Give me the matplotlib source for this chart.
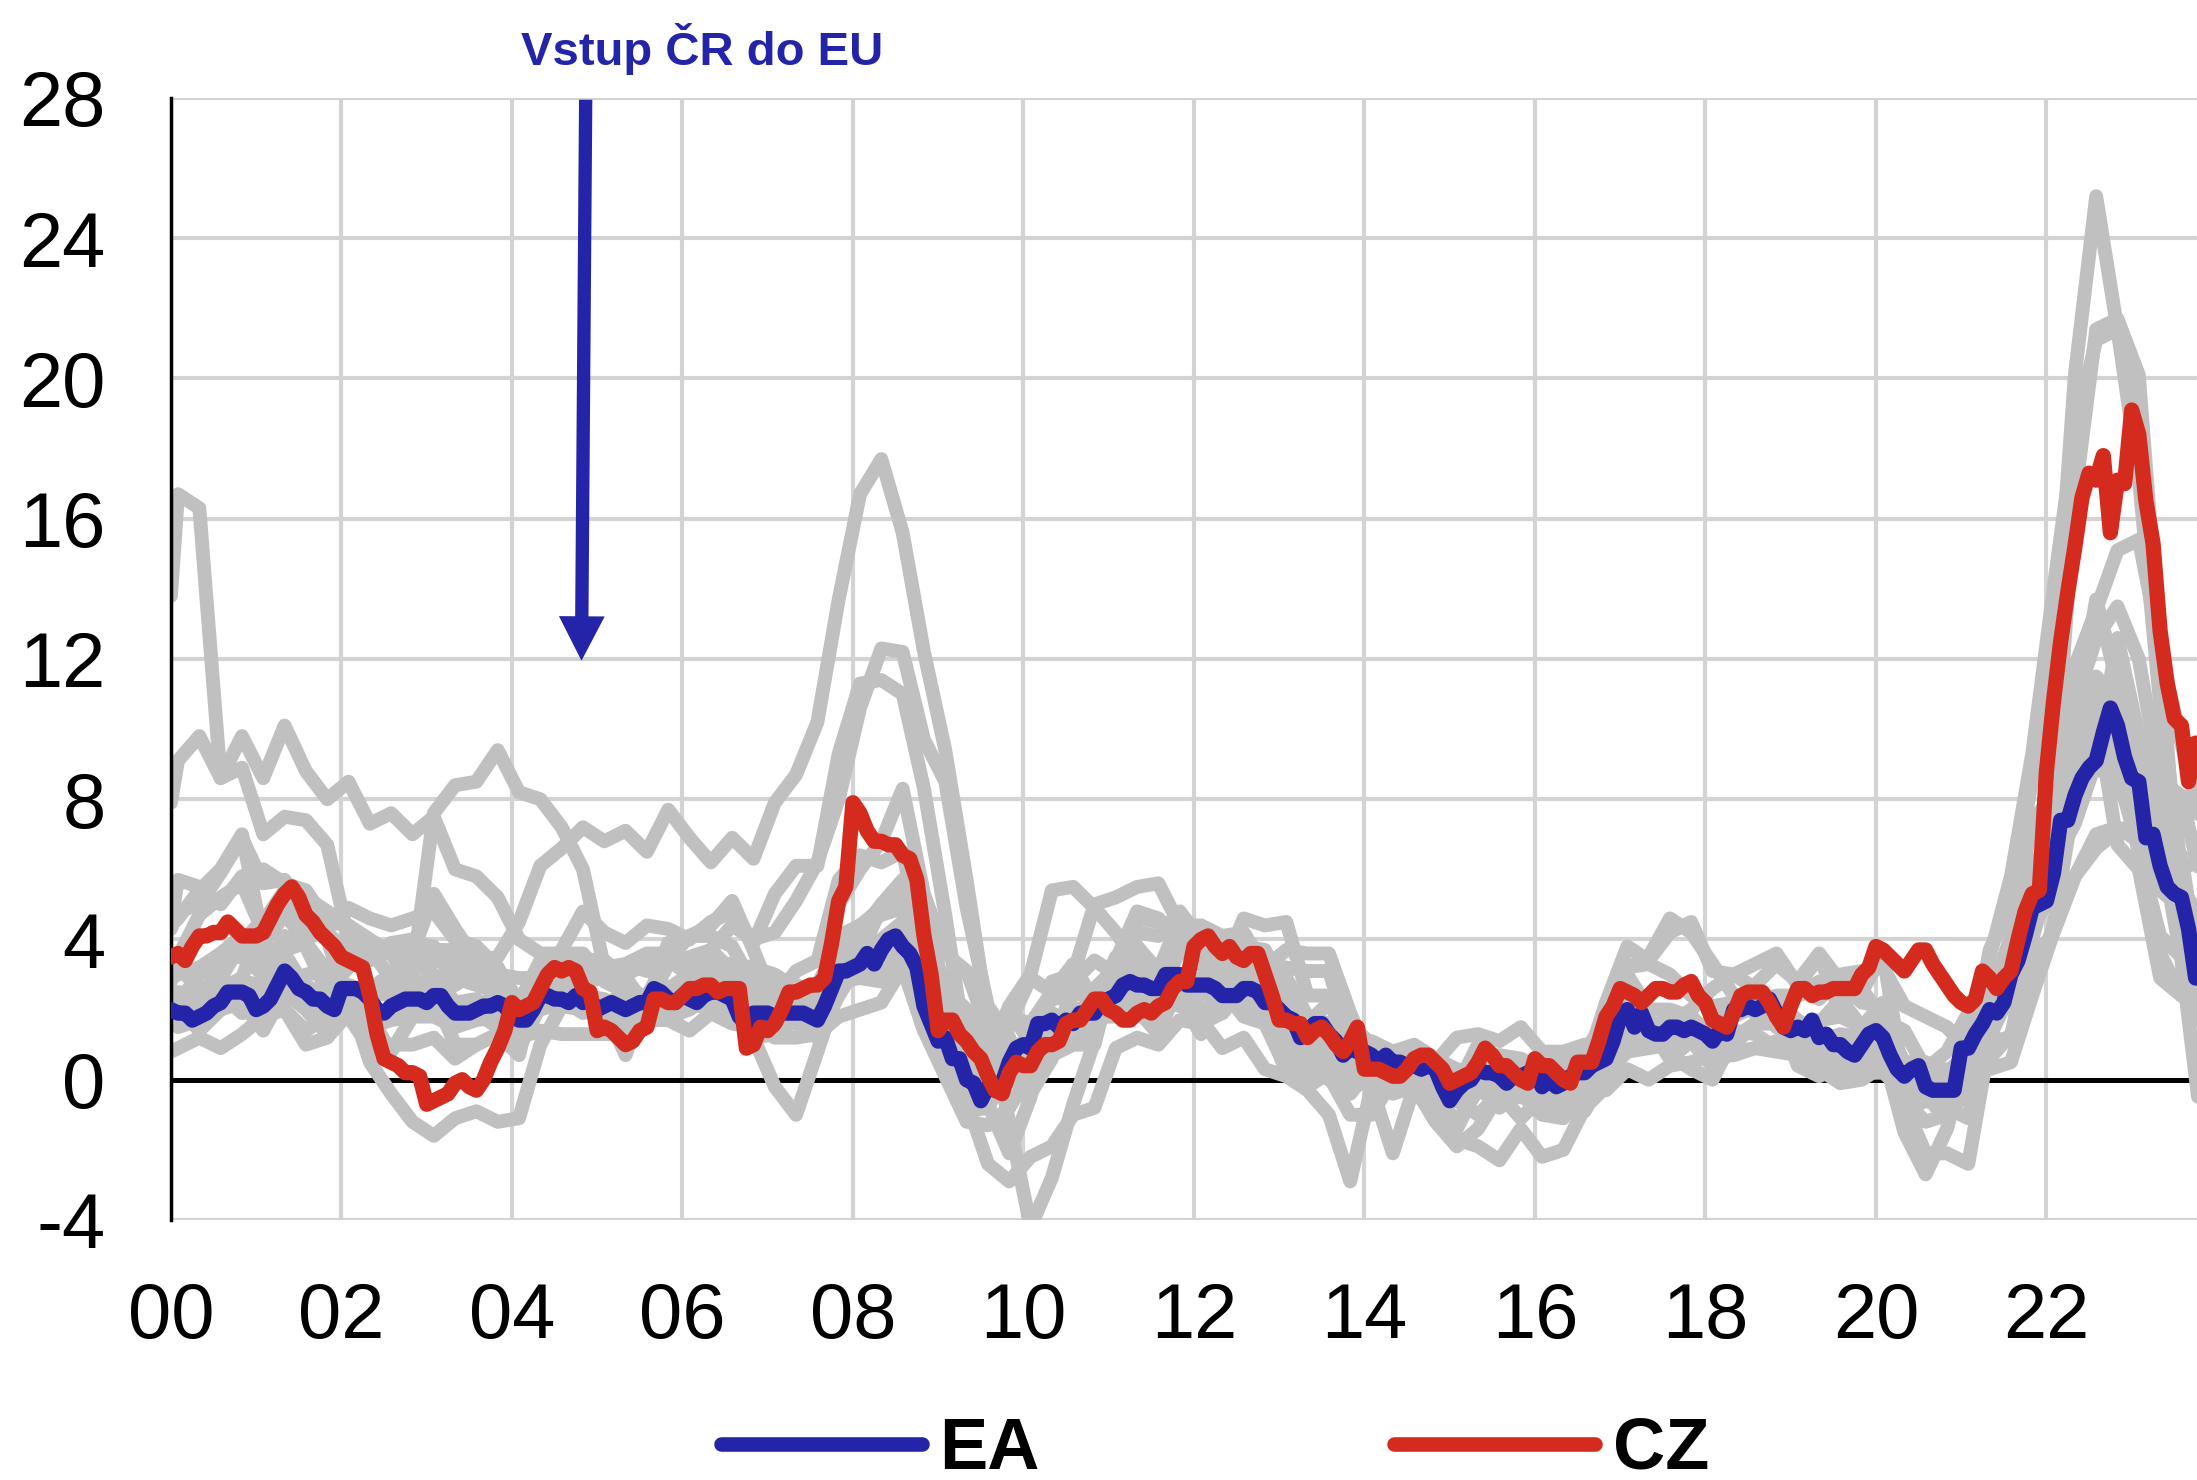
import numpy as np
import matplotlib
matplotlib.use('Agg')
import matplotlib.pyplot as plt
from matplotlib.lines import Line2D

# --- data -------------------------------------------------------------
# monthly y/y inflation, Jan 2000 .. Oct 2023
ea_by_year = [
    [2.0, 1.9, 1.9, 1.7, 1.8, 1.9, 2.1, 2.2, 2.5, 2.5, 2.5, 2.4],
    [2.0, 2.1, 2.3, 2.7, 3.1, 2.9, 2.6, 2.5, 2.3, 2.3, 2.1, 2.0],
    [2.6, 2.6, 2.6, 2.5, 2.3, 2.0, 1.9, 2.1, 2.2, 2.3, 2.3, 2.3],
    [2.2, 2.4, 2.4, 2.1, 1.9, 1.9, 1.9, 2.0, 2.1, 2.1, 2.2, 2.1],
    [1.8, 1.7, 1.7, 2.0, 2.4, 2.4, 2.3, 2.3, 2.2, 2.4, 2.2, 2.3],
    [2.0, 2.1, 2.2, 2.1, 2.0, 2.1, 2.2, 2.2, 2.6, 2.5, 2.3, 2.2],
    [2.4, 2.3, 2.2, 2.4, 2.5, 2.5, 2.4, 2.3, 1.8, 1.6, 1.9, 1.9],
    [1.9, 1.8, 1.9, 1.9, 1.9, 1.9, 1.8, 1.7, 2.1, 2.6, 3.1, 3.1],
    [3.2, 3.3, 3.6, 3.3, 3.7, 4.0, 4.1, 3.8, 3.6, 3.2, 2.1, 1.6],
    [1.1, 1.2, 0.6, 0.6, 0.0, -0.1, -0.6, -0.2, -0.3, -0.1, 0.5, 0.9],
    [1.0, 0.9, 1.6, 1.6, 1.7, 1.5, 1.7, 1.6, 1.9, 1.9, 1.9, 2.2],
    [2.3, 2.4, 2.7, 2.8, 2.7, 2.7, 2.6, 2.6, 3.0, 3.0, 3.0, 2.7],
    [2.7, 2.7, 2.7, 2.6, 2.4, 2.4, 2.4, 2.6, 2.6, 2.5, 2.2, 2.2],
    [2.0, 1.8, 1.7, 1.2, 1.4, 1.6, 1.6, 1.3, 1.1, 0.7, 0.9, 0.8],
    [0.8, 0.7, 0.5, 0.7, 0.5, 0.5, 0.4, 0.4, 0.3, 0.4, 0.3, -0.2],
    [-0.6, -0.3, -0.1, 0.0, 0.3, 0.2, 0.2, 0.1, -0.1, 0.1, 0.1, 0.2],
    [0.3, -0.2, 0.0, -0.2, -0.1, 0.1, 0.2, 0.2, 0.4, 0.5, 0.6, 1.1],
    [1.8, 2.0, 1.5, 1.9, 1.4, 1.3, 1.3, 1.5, 1.5, 1.4, 1.5, 1.4],
    [1.3, 1.1, 1.4, 1.3, 2.0, 2.0, 2.1, 2.0, 2.1, 2.3, 1.9, 1.5],
    [1.4, 1.5, 1.4, 1.7, 1.2, 1.3, 1.0, 1.0, 0.8, 0.7, 1.0, 1.3],
    [1.4, 1.2, 0.7, 0.3, 0.1, 0.3, 0.4, -0.2, -0.3, -0.3, -0.3, -0.3],
    [0.9, 0.9, 1.3, 1.6, 2.0, 1.9, 2.2, 3.0, 3.4, 4.1, 4.9, 5.0],
    [5.1, 5.9, 7.4, 7.4, 8.1, 8.6, 8.9, 9.1, 9.9, 10.6, 10.1, 9.2],
    [8.6, 8.5, 6.9, 7.0, 6.1, 5.5, 5.3, 5.2, 4.3, 2.9],
]

cz_by_year = [
    [3.5, 3.6, 3.4, 3.8, 4.1, 4.1, 4.2, 4.2, 4.5, 4.3, 4.1, 4.1],
    [4.1, 4.2, 4.6, 5.0, 5.3, 5.5, 5.2, 4.7, 4.5, 4.2, 4.0, 3.8],
    [3.5, 3.4, 3.3, 3.2, 2.4, 1.3, 0.6, 0.5, 0.4, 0.2, 0.2, 0.1],
    [-0.7, -0.6, -0.5, -0.4, -0.1, 0.0, -0.2, -0.3, 0.0, 0.5, 0.9, 1.4],
    [2.2, 2.0, 2.1, 2.2, 2.6, 3.0, 3.2, 3.1, 3.2, 3.1, 2.6, 2.5],
    [1.4, 1.5, 1.4, 1.2, 1.0, 1.1, 1.4, 1.5, 2.3, 2.3, 2.2, 2.2],
    [2.4, 2.6, 2.6, 2.7, 2.7, 2.5, 2.6, 2.6, 2.6, 0.9, 1.0, 1.5],
    [1.4, 1.6, 2.0, 2.5, 2.5, 2.6, 2.7, 2.7, 2.9, 3.9, 5.1, 5.5],
    [7.9, 7.6, 7.1, 6.8, 6.8, 6.7, 6.7, 6.4, 6.3, 5.7, 4.1, 3.0],
    [1.4, 1.7, 1.7, 1.3, 1.1, 0.8, 0.6, 0.1, -0.3, -0.4, 0.2, 0.5],
    [0.4, 0.4, 0.8, 1.0, 1.0, 1.1, 1.6, 1.7, 1.7, 2.0, 2.3, 2.3],
    [2.0, 1.9, 1.7, 1.7, 1.9, 2.0, 1.9, 2.1, 2.2, 2.6, 2.8, 2.8],
    [3.8, 4.0, 4.1, 3.8, 3.6, 3.8, 3.5, 3.4, 3.6, 3.6, 3.0, 2.4],
    [1.7, 1.7, 1.6, 1.6, 1.2, 1.4, 1.5, 1.3, 1.0, 0.8, 1.1, 1.5],
    [0.3, 0.3, 0.3, 0.2, 0.1, 0.1, 0.3, 0.6, 0.7, 0.7, 0.5, 0.3],
    [-0.1, 0.0, 0.1, 0.2, 0.5, 0.9, 0.7, 0.4, 0.4, 0.2, 0.0, -0.1],
    [0.6, 0.4, 0.4, 0.2, 0.0, -0.1, 0.5, 0.5, 0.5, 1.1, 1.8, 2.1],
    [2.6, 2.5, 2.4, 2.2, 2.4, 2.6, 2.6, 2.5, 2.5, 2.7, 2.8, 2.4],
    [2.2, 1.7, 1.6, 1.5, 1.9, 2.4, 2.5, 2.5, 2.5, 2.2, 1.8, 1.5],
    [2.1, 2.6, 2.6, 2.4, 2.5, 2.5, 2.6, 2.6, 2.6, 2.6, 3.0, 3.2],
    [3.8, 3.7, 3.5, 3.3, 3.1, 3.4, 3.7, 3.7, 3.3, 3.0, 2.7, 2.4],
    [2.2, 2.1, 2.3, 3.1, 2.9, 2.6, 2.9, 3.1, 4.0, 4.8, 5.3, 5.4],
    [8.8, 10.8, 12.5, 13.9, 15.2, 16.6, 17.3, 17.1, 17.8, 15.6, 17.1, 17.0],
    [19.1, 18.4, 16.5, 15.3, 12.8, 11.3, 10.3, 10.1, 8.5, 9.6],
]

# other euro area countries: Jan 2000, then Feb / May / Aug / Nov of each year
gray_sk = [13.8,
    16.7, 16.3, 8.6, 8.9, 7.0, 7.5, 7.4, 6.7, 4.0, 3.7, 2.9, 3.0, 7.6, 8.4, 8.5, 9.4,
    8.2, 8.0, 7.2, 6.0, 3.2, 2.6, 2.2, 3.9, 4.1, 4.4, 5.1, 3.7, 2.2, 1.6, 1.2, 2.4,
    3.4, 4.0, 4.5, 3.9, 2.4, 1.1, 0.6, 0.0, -0.2, 0.7, 1.0, 1.0, 3.4, 4.2, 4.1, 4.8,
    4.0, 3.4, 3.8, 3.7, 2.5, 1.7, 1.5, 0.4, -0.1, -0.1, -0.1, -0.1, -0.6, -0.1, 0.0, -0.5,
    -0.6, -0.5, -0.9, 0.2, 0.8, 0.9, 1.6, 2.0, 2.6, 3.0, 2.6, 2.2, 2.4, 2.6, 3.0, 3.1,
    3.2, 2.1, 1.8, 1.5, 0.8, 1.7, 3.3, 4.8, 8.3, 11.8, 13.4, 15.1, 15.4, 12.3, 9.6, 7.0]
gray_si = [7.9,
    9.1, 9.8, 8.6, 9.8, 8.6, 10.1, 8.8, 8.0, 8.5, 7.3, 7.6, 7.0, 7.5, 6.0, 5.8, 5.2,
    4.0, 3.6, 3.6, 3.6, 2.8, 2.5, 2.3, 2.5, 2.3, 3.4, 2.2, 2.2, 2.3, 3.1, 3.4, 5.7,
    6.4, 6.2, 6.5, 3.7, 1.6, 0.4, -0.1, 1.8, 1.6, 2.5, 3.1, 1.8, 1.9, 2.0, 1.3, 2.8,
    2.7, 2.9, 3.3, 2.7, 2.6, 1.6, 2.2, 1.1, 0.6, 0.8, 0.1, 0.0, -0.6, -1.0, -0.4, -1.1,
    -0.5, -0.5, 0.2, 0.6, 1.9, 1.2, 1.5, 1.4, 1.4, 2.2, 2.1, 2.0, 1.2, 1.6, 2.3, 1.5,
    2.2, -1.0, -0.3, -0.8, -1.1, 2.2, 2.1, 4.6, 7.0, 8.7, 11.5, 10.8, 9.4, 8.1, 6.0, 6.3]
gray_ee = [4.5,
    5.7, 5.5, 5.0, 5.8, 6.0, 5.6, 5.4, 4.5, 4.4, 4.0, 3.6, 2.6, 2.4, 1.0, 1.0, 1.3,
    0.7, 3.1, 3.7, 4.8, 4.2, 3.9, 4.4, 4.3, 4.0, 4.5, 4.8, 3.9, 5.3, 6.1, 6.1, 9.3,
    11.3, 11.4, 11.0, 8.3, 4.7, 0.7, -0.7, -2.1, -0.5, 2.8, 3.0, 5.0, 5.2, 5.5, 5.6, 4.4,
    4.4, 4.1, 4.2, 3.2, 3.7, 3.6, 3.6, 1.9, 0.5, 0.0, 0.4, -0.1, -0.6, 0.2, 0.1, 0.4,
    0.1, 0.3, 0.3, 2.2, 3.8, 3.4, 4.2, 4.5, 3.1, 3.0, 3.3, 3.6, 2.7, 3.5, 2.1, 1.4,
    1.7, -1.3, -0.4, -1.2, 0.3, 3.7, 5.0, 8.6, 11.6, 20.1, 25.2, 21.4, 17.9, 11.2, 5.5, 4.5]
gray_lv = [3.3,
    3.3, 2.5, 2.5, 1.9, 2.0, 2.5, 3.0, 3.1, 2.4, 1.5, 1.7, 1.8, 2.8, 3.0, 3.4, 3.5,
    4.5, 6.1, 6.6, 7.2, 6.8, 7.1, 6.5, 7.7, 6.9, 6.2, 6.9, 6.3, 7.9, 8.7, 10.2, 13.7,
    16.7, 17.7, 15.6, 12.2, 9.4, 5.7, 1.7, -1.2, -4.2, -2.8, -0.7, 1.1, 3.4, 4.8, 4.6, 4.0,
    3.3, 2.6, 1.8, 1.6, 0.3, -0.2, 0.2, -0.4, 0.4, 0.8, 1.0, 0.6, 0.3, 0.2, 0.1, 0.0,
    -0.2, -0.3, 0.0, 1.8, 3.2, 3.3, 3.0, 2.4, 2.1, 2.2, 2.7, 3.3, 2.8, 3.6, 2.8, 2.2,
    2.1, -0.6, -0.5, -0.6, 0.1, 2.3, 4.1, 7.4, 8.1, 16.6, 21.4, 21.7, 20.1, 12.3, 4.1, 1.7]
gray_lt = [0.8,
    0.9, 1.2, 0.9, 1.3, 1.8, 2.0, 1.4, 1.8, 2.4, 0.5, -0.4, -1.2, -1.6, -1.1, -0.9, -1.2,
    -1.1, 1.0, 2.1, 3.0, 3.4, 2.9, 2.1, 3.3, 3.5, 3.7, 4.4, 4.0, 4.2, 5.1, 6.2, 8.0,
    10.6, 12.3, 12.2, 9.7, 8.5, 4.9, 2.1, 1.2, -0.4, 0.6, 2.8, 3.4, 3.0, 4.6, 4.5, 4.3,
    3.6, 3.2, 2.9, 3.1, 2.1, 1.1, 0.5, 0.4, 0.3, 0.3, 0.2, -0.1, -1.4, -0.2, -0.8, -0.4,
    0.5, 0.5, 0.8, 1.7, 3.2, 3.5, 4.6, 4.2, 3.3, 2.4, 2.2, 2.4, 2.4, 2.8, 2.2, 2.5,
    3.6, -0.2, -0.3, 0.3, 0.4, 3.5, 5.8, 9.3, 14.0, 18.5, 21.1, 21.4, 17.2, 10.7, 6.0, 2.8]
gray_cy = [2.8,
    3.5, 4.7, 5.2, 5.6, 4.2, 2.0, 1.0, 1.2, 1.9, 2.6, 3.0, 3.6, 5.3, 4.3, 3.4, 3.2,
    1.2, 2.2, 2.3, 1.9, 2.1, 1.9, 2.2, 1.9, 2.4, 2.6, 2.2, 1.2, 1.3, 1.7, 2.3, 3.2,
    4.2, 5.0, 5.7, 3.6, 1.2, 0.0, -0.5, 1.6, 2.9, 2.5, 3.3, 2.2, 2.5, 3.8, 3.1, 4.6,
    3.4, 3.3, 4.0, 2.3, 1.6, 0.2, 0.1, -1.0, -1.0, 0.0, -0.2, -0.8, -1.7, -1.9, -2.3, -1.4,
    -2.2, -2.0, -0.8, -0.2, 1.1, 1.3, 0.7, 0.3, 0.0, 1.2, 1.6, 2.1, 0.4, 0.1, 0.4, 0.5,
    0.8, -1.5, -2.7, -1.4, 0.9, 2.4, 3.1, 4.4, 5.3, 8.8, 9.6, 8.6, 6.8, 3.6, 2.4, 2.9]
gray_mt = [2.1,
    2.2, 3.0, 3.5, 3.5, 3.0, 2.5, 2.7, 2.3, 2.7, 2.5, 2.4, 2.6, 1.9, 1.8, 1.9, 1.5,
    2.3, 3.0, 2.9, 2.4, 2.1, 2.5, 2.4, 3.4, 3.0, 3.4, 3.1, 1.2, -0.2, -1.0, 0.8, 2.6,
    3.6, 4.9, 5.3, 4.6, 2.6, 2.0, 0.8, 0.0, 1.4, 2.3, 2.4, 2.6, 3.2, 2.5, 2.3, 2.1,
    2.8, 3.3, 3.6, 2.5, 0.6, 0.9, 1.0, 0.5, 0.8, 0.6, 0.9, 0.5, 1.2, 1.3, 1.1, 1.5,
    0.8, 0.8, 1.0, 0.7, 1.2, 1.3, 1.3, 1.5, 1.3, 1.8, 2.1, 1.5, 1.1, 1.7, 1.8, 1.5,
    1.3, 0.5, 0.5, 0.2, 0.2, 0.3, 0.5, 2.4, 4.2, 5.8, 7.0, 7.2, 6.8, 6.4, 5.3, 4.0]
gray_hr = [4.3,
    4.8, 5.0, 5.9, 6.9, 5.6, 5.7, 4.5, 4.0, 2.2, 1.8, 0.8, 1.8, 1.8, 1.5, 1.7, 1.8,
    2.2, 2.4, 2.5, 2.8, 2.9, 3.3, 3.1, 3.6, 3.3, 3.7, 3.1, 2.1, 1.4, 2.3, 2.1, 5.0,
    6.0, 6.8, 8.3, 5.3, 3.6, 3.1, 1.4, 1.9, 1.1, 0.9, 1.0, 1.7, 2.2, 2.2, 2.2, 2.3,
    1.3, 3.1, 4.6, 4.4, 4.5, 2.4, 2.4, 0.7, 0.2, 0.0, -0.3, -0.1, -0.2, 0.0, -0.3, -0.4,
    -0.6, -0.8, -0.8, 0.7, 1.4, 1.2, 1.4, 1.6, 1.4, 2.1, 2.2, 1.7, 1.0, 1.1, 0.8, 0.4,
    1.4, -0.3, -0.1, -0.5, -0.2, 2.2, 3.1, 5.5, 6.3, 10.7, 12.6, 13.5, 12.0, 8.5, 8.1, 5.5]
gray_gr = [2.4,
    2.5, 2.4, 2.9, 3.9, 3.4, 3.7, 3.9, 3.1, 4.2, 3.8, 3.8, 3.9, 3.4, 3.3, 3.3, 3.0,
    2.9, 2.9, 3.0, 3.1, 3.2, 3.3, 3.6, 3.6, 3.2, 3.3, 3.3, 3.2, 3.0, 2.6, 2.7, 3.9,
    4.4, 4.9, 4.8, 3.0, 1.6, 0.7, 0.6, 2.1, 3.0, 5.4, 5.5, 4.9, 4.2, 3.3, 1.4, 2.8,
    1.7, 0.9, 1.2, 0.3, 0.1, -0.3, -1.0, -2.9, -0.2, -2.1, -0.2, -1.2, -1.9, -1.4, -0.4, -0.1,
    0.1, -0.2, 0.2, -0.1, 1.4, 1.5, 0.6, 1.1, 0.4, 0.8, 0.9, 1.1, 0.6, 0.6, 0.1, 0.5,
    0.4, -0.7, -2.1, -2.1, -2.4, 1.1, 1.2, 4.4, 6.3, 10.5, 11.2, 8.8, 6.5, 4.1, 3.5, 3.0]
gray_ie = [4.4,
    4.6, 5.4, 6.0, 7.0, 3.9, 4.7, 4.0, 4.3, 4.9, 4.6, 4.4, 4.6, 4.8, 4.0, 3.8, 3.2,
    2.2, 2.0, 2.2, 2.4, 2.3, 2.0, 2.3, 2.0, 2.6, 3.0, 3.2, 3.0, 2.6, 2.7, 2.5, 3.2,
    3.6, 3.7, 3.1, 2.1, 1.0, -0.6, -2.4, -2.9, -2.2, -1.9, -1.0, -0.8, 0.9, 1.2, 1.0, 1.7,
    1.6, 1.9, 2.6, 1.6, 1.2, 0.5, 0.0, -0.3, 0.1, 0.4, 0.5, 0.2, -0.3, 0.2, 0.2, -0.1,
    -0.2, -0.1, -0.1, -0.3, 0.3, 0.0, 0.4, 0.5, 0.7, 0.7, 0.9, 0.8, 0.7, 1.0, 0.6, 0.7,
    1.1, -0.6, -1.2, -1.0, -0.3, 1.9, 3.0, 5.4, 5.7, 8.3, 9.0, 9.0, 8.1, 5.4, 4.9, 2.5]
gray_es = [2.9,
    3.0, 3.2, 3.6, 4.1, 3.0, 4.1, 3.8, 2.5, 3.2, 3.7, 3.6, 3.9, 3.8, 2.7, 3.1, 2.9,
    2.2, 3.4, 3.3, 3.5, 3.3, 3.0, 3.3, 3.4, 4.1, 4.1, 3.8, 2.7, 2.5, 2.4, 2.2, 4.1,
    4.4, 4.7, 4.9, 2.4, 0.7, -0.9, -0.8, 0.4, 1.0, 1.8, 1.6, 2.2, 3.4, 3.4, 2.7, 2.9,
    2.0, 1.9, 2.7, 3.0, 2.9, 1.8, 1.6, 0.3, 0.1, 0.2, -0.5, -0.5, -1.2, -0.3, -0.5, -0.4,
    -1.0, -1.1, -0.3, 0.5, 3.0, 2.0, 2.0, 1.8, 1.2, 2.1, 2.2, 1.7, 1.1, 0.9, 0.4, 0.5,
    0.9, -0.9, -0.6, -0.8, -0.1, 2.4, 3.3, 5.5, 7.6, 8.5, 10.5, 6.7, 6.0, 2.9, 2.4, 3.2]
gray_de = [1.9,
    2.1, 1.4, 2.0, 2.6, 2.5, 3.6, 2.6, 1.5, 1.8, 0.9, 1.0, 1.0, 1.2, 0.6, 1.0, 1.3,
    0.9, 2.1, 2.1, 2.0, 1.8, 1.6, 1.9, 2.2, 2.1, 2.1, 1.8, 1.5, 1.9, 2.0, 2.0, 3.3,
    3.0, 3.1, 3.3, 1.4, 1.0, 0.0, -0.1, 0.3, 0.5, 1.2, 1.0, 1.6, 2.2, 2.4, 2.5, 2.8,
    2.5, 2.2, 2.2, 1.9, 1.8, 1.6, 1.6, 1.6, 1.0, 0.6, 0.8, 0.5, 0.0, 0.7, 0.1, 0.3,
    0.4, 0.0, 0.3, 0.7, 2.2, 1.4, 1.8, 1.8, 1.2, 2.2, 1.9, 2.2, 1.7, 1.3, 1.0, 1.2,
    1.7, 0.5, -0.2, -0.7, 1.6, 2.4, 3.4, 6.0, 5.5, 8.7, 8.8, 11.3, 9.3, 6.3, 6.4, 2.3]
gray_fr = [1.7,
    1.5, 1.7, 2.0, 2.2, 1.4, 2.5, 2.0, 1.3, 2.3, 1.6, 1.8, 2.2, 2.5, 1.8, 2.0, 2.5,
    2.1, 2.8, 2.4, 2.2, 1.7, 1.7, 1.9, 1.8, 2.0, 2.4, 2.1, 1.6, 1.2, 1.2, 1.3, 2.6,
    3.2, 3.7, 3.5, 1.9, 1.0, -0.3, -0.2, 0.5, 1.4, 1.9, 1.6, 1.8, 1.8, 2.2, 2.4, 2.7,
    2.5, 2.3, 2.4, 1.6, 1.2, 0.9, 1.0, 0.8, 1.1, 0.8, 0.5, 0.4, -0.3, 0.3, 0.1, 0.1,
    0.1, 0.1, 0.4, 0.7, 1.4, 0.9, 1.0, 1.2, 1.3, 2.3, 2.6, 2.2, 1.6, 1.1, 1.3, 1.2,
    1.6, 0.4, 0.2, 0.2, 0.8, 1.8, 2.4, 3.4, 4.2, 5.8, 6.6, 7.1, 7.3, 6.0, 5.7, 3.9]
gray_it = [2.2,
    2.4, 2.6, 2.6, 2.8, 2.7, 2.9, 2.6, 2.4, 2.6, 2.4, 2.7, 2.9, 2.6, 2.9, 2.7, 2.5,
    2.4, 2.3, 2.4, 2.0, 2.0, 2.3, 2.1, 2.4, 2.2, 2.3, 2.3, 2.0, 2.1, 1.9, 1.7, 2.6,
    3.1, 3.7, 4.2, 2.7, 1.5, 0.8, 0.1, 0.8, 1.1, 1.6, 1.8, 1.9, 2.1, 3.0, 2.3, 3.7,
    3.4, 3.5, 3.3, 2.6, 2.0, 1.3, 1.2, 0.7, 0.5, 0.4, -0.2, 0.3, 0.1, 0.2, 0.4, 0.1,
    -0.2, -0.3, -0.2, 0.1, 1.6, 1.6, 1.4, 1.1, 0.5, 1.0, 1.6, 1.6, 1.1, 0.9, 0.5, 0.2,
    0.2, -0.3, -0.5, -0.3, 1.0, 1.2, 2.5, 4.0, 6.2, 7.3, 9.1, 12.6, 9.8, 8.0, 5.5, 0.6]
gray_nl = [1.6,
    1.6, 2.0, 2.6, 2.9, 4.5, 5.4, 5.2, 4.8, 4.4, 3.9, 3.6, 3.4, 3.0, 2.2, 2.3, 1.7,
    1.2, 1.4, 1.3, 1.3, 1.3, 1.3, 1.7, 1.7, 1.4, 1.9, 1.6, 1.5, 1.6, 1.9, 1.3, 1.8,
    2.0, 2.2, 3.2, 2.1, 1.9, 1.7, 0.1, 0.6, 0.4, 0.9, 1.6, 1.6, 2.0, 2.3, 2.8, 2.6,
    2.9, 2.5, 2.6, 3.3, 3.2, 3.1, 3.1, 1.2, 0.8, 0.1, 0.4, 0.4, -0.2, 1.0, 0.4, 0.4,
    0.2, -0.2, 0.1, 0.6, 1.7, 1.1, 1.4, 1.5, 1.3, 2.0, 2.1, 1.8, 2.6, 2.3, 2.9, 2.6,
    1.7, 1.4, 0.3, 0.8, 1.9, 2.0, 2.7, 5.9, 7.3, 10.2, 13.7, 11.3, 8.9, 6.8, 3.4, -1.6]
gray_pt = [1.9,
    1.8, 2.3, 3.2, 3.9, 4.6, 4.9, 4.3, 4.2, 3.6, 3.4, 3.9, 4.0, 3.7, 3.7, 3.0, 2.6,
    2.3, 2.4, 2.6, 2.5, 2.1, 0.7, 2.4, 2.6, 3.0, 3.7, 2.7, 2.4, 2.4, 2.4, 1.8, 2.8,
    2.9, 2.8, 3.2, 1.4, 0.1, -1.2, -1.3, -0.8, 0.2, 1.1, 2.0, 2.1, 3.5, 3.8, 2.8, 3.8,
    3.6, 2.7, 3.2, 1.9, 0.2, 0.7, 0.2, 0.1, -0.1, -0.4, -0.2, 0.1, -0.1, 0.7, 0.7, 0.6,
    0.3, 0.4, 0.8, 0.5, 1.6, 1.7, 1.3, 1.8, 0.7, 1.4, 1.3, 0.9, 0.8, 0.3, -0.1, 0.0,
    0.4, -0.6, -0.2, -0.5, 0.3, 0.6, 1.3, 2.6, 4.4, 8.1, 9.3, 10.3, 8.6, 5.4, 5.3, 2.2]

gray_series = [gray_sk, gray_si, gray_ee, gray_lv, gray_lt, gray_cy, gray_mt, gray_hr,
               gray_gr, gray_ie, gray_es, gray_de, gray_fr, gray_it, gray_nl, gray_pt]

year_labels = ['00', '02', '04', '06', '08', '10', '12', '14', '16', '18', '20', '22']
series_names = ['EA', 'CZ']
note_text = 'Vstup ČR do EU'

# --- plot -------------------------------------------------------------
BLUE = '#2424a8'
RED = '#d52b1e'
GRAY = '#c0c0c0'

plt.rcParams['font.family'] = ['Liberation Sans', 'DejaVu Sans']
plt.rcParams['axes.unicode_minus'] = False

ea = np.concatenate(ea_by_year)
cz = np.concatenate(cz_by_year)
month_x = 2000 + np.arange(len(ea)) / 12
gray_months = np.array([0] + [12 * y + m for y in range(24) for m in (1, 4, 7, 10)])
gray_x = 2000 + gray_months / 12

fig = plt.figure(figsize=(21.97, 14.8), dpi=100)
ax = fig.add_axes([0.0778, 0.1757, 0.9222, 0.7581])

for s in gray_series:
    ax.plot(gray_x, s, color=GRAY, lw=10, solid_joinstyle='round', solid_capstyle='round', zorder=2)
ax.plot(month_x, ea, color=BLUE, lw=11, solid_joinstyle='round', solid_capstyle='round', zorder=3)
ax.plot(month_x, cz, color=RED, lw=11, solid_joinstyle='round', solid_capstyle='round', zorder=4)
ax.axhline(0, color='black', lw=3.6, zorder=1.5)

ax.set_xlim(2000, 2023.766)
ax.set_ylim(-4, 28)
ax.set_xticks(np.arange(2000, 2023, 2))
ax.set_xticklabels(year_labels)
ax.set_yticks(np.arange(-4, 29, 4))
ax.grid(True, color='#d3d3d3', lw=3)
ax.set_axisbelow(True)
for side in ['top', 'right', 'bottom']:
    ax.spines[side].set_visible(False)
ax.spines['left'].set_linewidth(2.5)
ax.spines['left'].set_color('black')
ax.tick_params(axis='both', length=0, labelsize=56)
ax.tick_params(axis='y', pad=47)
ax.tick_params(axis='x', pad=44)

ax.annotate('', xy=(2004.816, 11.95), xytext=(2004.865, 27.95),
            arrowprops=dict(arrowstyle='simple,head_length=1.0,head_width=1.03,tail_width=0.3',
                            mutation_scale=32, facecolor=BLUE, edgecolor='none', lw=0,
                            shrinkA=0, shrinkB=0),
            annotation_clip=False, zorder=6)
ax.text(2006.23, 29.4, note_text, color=BLUE, fontsize=34, fontweight='bold',
        ha='center', va='center', clip_on=False)

handles = [Line2D([], [], color=BLUE, lw=10.5, solid_capstyle='round'),
           Line2D([], [], color=RED, lw=10.5, solid_capstyle='round')]
fig.legend(handles, series_names, loc='center', bbox_to_anchor=(0.553, 0.0203), ncol=2,
           frameon=False, prop={'size': 52, 'weight': 'bold'}, handlelength=2.78,
           handletextpad=0.25, columnspacing=4.9)

fig.savefig('out.png', dpi=100)
